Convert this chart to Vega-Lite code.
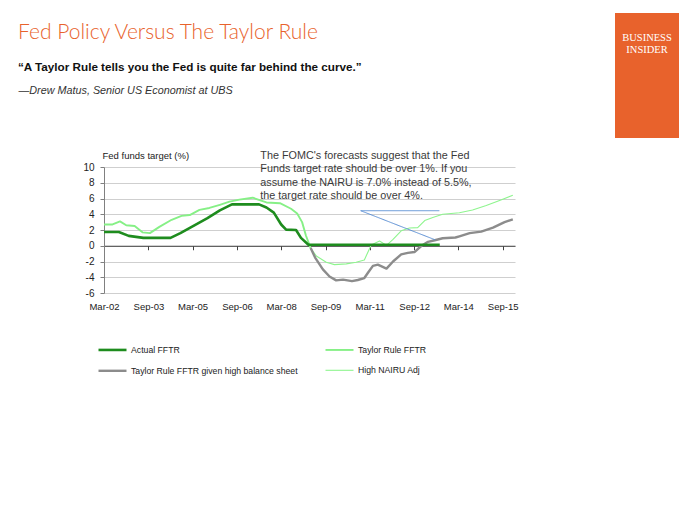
{
  "$schema": "https://vega.github.io/schema/vega-lite/v6.json",
  "autosize": {"type": "none"},
  "width": 411,
  "height": 126,
  "padding": {"left": 104, "top": 167, "right": 185, "bottom": 232},
  "background": "white",
  "config": {"view": {"stroke": null}, "font": "Liberation Sans"},
  "title": {
    "text": "Fed Policy Versus The Taylor Rule",
    "subtitle": "“A Taylor Rule tells you the Fed is quite far behind the curve.”",
    "anchor": "start",
    "frame": "group",
    "dx": -86,
    "offset": -61,
    "font": "Lato",
    "fontSize": 21,
    "fontWeight": 300,
    "color": "#e8622c",
    "subtitleFont": "Liberation Sans",
    "subtitleFontSize": 11.7,
    "subtitleFontWeight": "bold",
    "subtitleColor": "#111111",
    "subtitlePadding": 19.7
  },
  "datasets": {
    "series": [
      {"d": "2002-03-01", "s": "Taylor Rule FFTR", "v": 2.7},
      {"d": "2002-06-15", "s": "Taylor Rule FFTR", "v": 2.7},
      {"d": "2002-09-15", "s": "Taylor Rule FFTR", "v": 3.1},
      {"d": "2002-12-01", "s": "Taylor Rule FFTR", "v": 2.6},
      {"d": "2003-03-15", "s": "Taylor Rule FFTR", "v": 2.5},
      {"d": "2003-06-20", "s": "Taylor Rule FFTR", "v": 1.7},
      {"d": "2003-09-20", "s": "Taylor Rule FFTR", "v": 1.6},
      {"d": "2004-01-15", "s": "Taylor Rule FFTR", "v": 2.4},
      {"d": "2004-06-15", "s": "Taylor Rule FFTR", "v": 3.3},
      {"d": "2004-10-15", "s": "Taylor Rule FFTR", "v": 3.8},
      {"d": "2005-01-25", "s": "Taylor Rule FFTR", "v": 3.9},
      {"d": "2005-05-25", "s": "Taylor Rule FFTR", "v": 4.55},
      {"d": "2005-09-25", "s": "Taylor Rule FFTR", "v": 4.8},
      {"d": "2006-02-01", "s": "Taylor Rule FFTR", "v": 5.2},
      {"d": "2006-06-01", "s": "Taylor Rule FFTR", "v": 5.6},
      {"d": "2006-10-01", "s": "Taylor Rule FFTR", "v": 5.85},
      {"d": "2007-03-15", "s": "Taylor Rule FFTR", "v": 6.1},
      {"d": "2007-09-01", "s": "Taylor Rule FFTR", "v": 5.5},
      {"d": "2008-02-15", "s": "Taylor Rule FFTR", "v": 5.4},
      {"d": "2008-07-01", "s": "Taylor Rule FFTR", "v": 4.7},
      {"d": "2008-09-15", "s": "Taylor Rule FFTR", "v": 4.1},
      {"d": "2008-11-15", "s": "Taylor Rule FFTR", "v": 3.0},
      {"d": "2009-01-01", "s": "Taylor Rule FFTR", "v": 1.3},
      {"d": "2009-03-01", "s": "Taylor Rule FFTR", "v": -0.3},
      {"d": "2009-03-01", "s": "High NAIRU Adj", "v": -0.3},
      {"d": "2009-05-10", "s": "High NAIRU Adj", "v": -1.3},
      {"d": "2009-09-10", "s": "High NAIRU Adj", "v": -2.1},
      {"d": "2009-12-20", "s": "High NAIRU Adj", "v": -2.4},
      {"d": "2010-05-15", "s": "High NAIRU Adj", "v": -2.3},
      {"d": "2010-09-15", "s": "High NAIRU Adj", "v": -2.1},
      {"d": "2010-12-25", "s": "High NAIRU Adj", "v": -1.8},
      {"d": "2011-03-20", "s": "High NAIRU Adj", "v": 0.1},
      {"d": "2011-07-01", "s": "High NAIRU Adj", "v": 0.6},
      {"d": "2011-09-25", "s": "High NAIRU Adj", "v": 0.05},
      {"d": "2011-12-15", "s": "High NAIRU Adj", "v": 0.8},
      {"d": "2012-03-25", "s": "High NAIRU Adj", "v": 1.9},
      {"d": "2012-07-05", "s": "High NAIRU Adj", "v": 2.25},
      {"d": "2012-10-15", "s": "High NAIRU Adj", "v": 2.3},
      {"d": "2013-01-10", "s": "High NAIRU Adj", "v": 3.2},
      {"d": "2013-04-20", "s": "High NAIRU Adj", "v": 3.6},
      {"d": "2013-08-20", "s": "High NAIRU Adj", "v": 4.0},
      {"d": "2014-03-15", "s": "High NAIRU Adj", "v": 4.2},
      {"d": "2014-08-25", "s": "High NAIRU Adj", "v": 4.55},
      {"d": "2015-02-10", "s": "High NAIRU Adj", "v": 5.1},
      {"d": "2015-07-25", "s": "High NAIRU Adj", "v": 5.75},
      {"d": "2016-01-05", "s": "High NAIRU Adj", "v": 6.4},
      {"d": "2009-03-01", "s": "Taylor Rule FFTR given high balance sheet", "v": -0.3},
      {"d": "2009-04-25", "s": "Taylor Rule FFTR given high balance sheet", "v": -1.5},
      {"d": "2009-07-30", "s": "Taylor Rule FFTR given high balance sheet", "v": -3.0},
      {"d": "2009-10-20", "s": "Taylor Rule FFTR given high balance sheet", "v": -3.9},
      {"d": "2010-01-10", "s": "Taylor Rule FFTR given high balance sheet", "v": -4.4},
      {"d": "2010-04-05", "s": "Taylor Rule FFTR given high balance sheet", "v": -4.3},
      {"d": "2010-07-25", "s": "Taylor Rule FFTR given high balance sheet", "v": -4.5},
      {"d": "2010-10-05", "s": "Taylor Rule FFTR given high balance sheet", "v": -4.35},
      {"d": "2010-12-25", "s": "Taylor Rule FFTR given high balance sheet", "v": -4.1},
      {"d": "2011-02-10", "s": "Taylor Rule FFTR given high balance sheet", "v": -3.4},
      {"d": "2011-04-10", "s": "Taylor Rule FFTR given high balance sheet", "v": -2.55},
      {"d": "2011-06-10", "s": "Taylor Rule FFTR given high balance sheet", "v": -2.4},
      {"d": "2011-09-25", "s": "Taylor Rule FFTR given high balance sheet", "v": -2.9},
      {"d": "2011-12-15", "s": "Taylor Rule FFTR given high balance sheet", "v": -2.0},
      {"d": "2012-03-25", "s": "Taylor Rule FFTR given high balance sheet", "v": -1.1},
      {"d": "2012-06-15", "s": "Taylor Rule FFTR given high balance sheet", "v": -0.9},
      {"d": "2012-09-05", "s": "Taylor Rule FFTR given high balance sheet", "v": -0.8},
      {"d": "2012-12-01", "s": "Taylor Rule FFTR given high balance sheet", "v": 0.0},
      {"d": "2013-02-20", "s": "Taylor Rule FFTR given high balance sheet", "v": 0.5},
      {"d": "2013-05-15", "s": "Taylor Rule FFTR given high balance sheet", "v": 0.7},
      {"d": "2013-08-20", "s": "Taylor Rule FFTR given high balance sheet", "v": 0.95},
      {"d": "2014-01-25", "s": "Taylor Rule FFTR given high balance sheet", "v": 1.05},
      {"d": "2014-03-15", "s": "Taylor Rule FFTR given high balance sheet", "v": 1.2},
      {"d": "2014-07-20", "s": "Taylor Rule FFTR given high balance sheet", "v": 1.6},
      {"d": "2014-12-10", "s": "Taylor Rule FFTR given high balance sheet", "v": 1.8},
      {"d": "2015-05-05", "s": "Taylor Rule FFTR given high balance sheet", "v": 2.3},
      {"d": "2015-09-25", "s": "Taylor Rule FFTR given high balance sheet", "v": 3.0},
      {"d": "2016-01-05", "s": "Taylor Rule FFTR given high balance sheet", "v": 3.35},
      {"d": "2002-03-01", "s": "Actual FFTR", "v": 1.75},
      {"d": "2002-09-01", "s": "Actual FFTR", "v": 1.75},
      {"d": "2003-01-01", "s": "Actual FFTR", "v": 1.25},
      {"d": "2003-07-01", "s": "Actual FFTR", "v": 1.0},
      {"d": "2004-06-01", "s": "Actual FFTR", "v": 1.0},
      {"d": "2004-10-01", "s": "Actual FFTR", "v": 1.6},
      {"d": "2005-02-01", "s": "Actual FFTR", "v": 2.3},
      {"d": "2005-09-01", "s": "Actual FFTR", "v": 3.5},
      {"d": "2006-02-01", "s": "Actual FFTR", "v": 4.5},
      {"d": "2006-07-01", "s": "Actual FFTR", "v": 5.25},
      {"d": "2007-06-01", "s": "Actual FFTR", "v": 5.25},
      {"d": "2007-09-01", "s": "Actual FFTR", "v": 4.85},
      {"d": "2007-12-01", "s": "Actual FFTR", "v": 4.2},
      {"d": "2008-03-01", "s": "Actual FFTR", "v": 2.7},
      {"d": "2008-05-01", "s": "Actual FFTR", "v": 2.05},
      {"d": "2008-09-01", "s": "Actual FFTR", "v": 2.0},
      {"d": "2008-11-01", "s": "Actual FFTR", "v": 1.0},
      {"d": "2009-02-01", "s": "Actual FFTR", "v": 0.12},
      {"d": "2013-07-15", "s": "Actual FFTR", "v": 0.12}
    ],
    "note": [
      {"d": "2007-06-17", "v": 11.0, "t": "The FOMC's forecasts suggest that the Fed\nFunds target rate should be over 1%. If you\nassume the NAIRU is 7.0% instead of 5.5%,\nthe target rate should be over 4%."}
    ],
    "arrows": [
      {"d": "2010-11-10", "d2": "2013-07-10", "v": 4.45, "v2": 4.45},
      {"d": "2010-11-10", "d2": "2013-05-20", "v": 4.45, "v2": 0.75}
    ]
  },
  "layer": [
    {
      "data": {"name": "series"},
      "mark": {"type": "line", "strokeJoin": "round"},
      "encoding": {
        "x": {
          "field": "d",
          "type": "temporal",
          "scale": {
            "type": "utc",
            "domain": [
              {"year": 2002, "month": 3, "date": 1, "utc": true},
              {"year": 2016, "month": 2, "date": 1, "utc": true}
            ]
          },
          "axis": {
            "values": [
              {"year": 2002, "month": 3, "date": 1, "utc": true},
              {"year": 2003, "month": 9, "date": 1, "utc": true},
              {"year": 2005, "month": 3, "date": 1, "utc": true},
              {"year": 2006, "month": 9, "date": 1, "utc": true},
              {"year": 2008, "month": 3, "date": 1, "utc": true},
              {"year": 2009, "month": 9, "date": 1, "utc": true},
              {"year": 2011, "month": 3, "date": 1, "utc": true},
              {"year": 2012, "month": 9, "date": 1, "utc": true},
              {"year": 2014, "month": 3, "date": 1, "utc": true},
              {"year": 2015, "month": 9, "date": 1, "utc": true}
            ],
            "labelExpr": "utcFormat(datum.value, '%b-%y')",
            "offset": {"expr": "scale('y', 0) - height"},
            "grid": false,
            "title": null,
            "domainColor": "#404040",
            "tickColor": "#404040",
            "tickSize": 4,
            "labelPadding": 52,
            "labelFlush": false,
            "labelOverlap": false,
            "labelFont": "Liberation Sans",
            "labelFontSize": 9.5,
            "labelColor": "#222222"
          }
        },
        "y": {
          "field": "v",
          "type": "quantitative",
          "scale": {"domain": [-6, 10], "nice": false, "zero": false},
          "axis": {
            "values": [-6, -4, -2, 0, 2, 4, 6, 8, 10],
            "labelExpr": "'' + datum.value",
            "grid": true,
            "gridColor": "#cfcfcf",
            "domainColor": "#808080",
            "tickColor": "#808080",
            "tickSize": 4,
            "labelPadding": 6,
            "labelOverlap": false,
            "labelFont": "Liberation Sans",
            "labelFontSize": 10,
            "labelColor": "#222222",
            "title": "Fed funds target (%)",
            "titleAngle": 0,
            "titleX": -2,
            "titleY": -12,
            "titleAlign": "left",
            "titleBaseline": "middle",
            "titleFont": "Liberation Sans",
            "titleFontSize": 9.5,
            "titleFontWeight": "normal",
            "titleColor": "#222222"
          }
        },
        "color": {
          "field": "s",
          "type": "nominal",
          "scale": {
            "domain": ["Actual FFTR", "Taylor Rule FFTR given high balance sheet", "Taylor Rule FFTR", "High NAIRU Adj"],
            "range": ["#1e8c1e", "#8c8c8c", "#86f086", "#8ef58e"]
          },
          "legend": {
            "orient": "none",
            "legendX": -7,
            "legendY": 167.3,
            "title": null,
            "columns": 2,
            "columnPadding": 23,
            "rowPadding": -2,
            "padding": 0,
            "symbolType": "stroke",
            "symbolSize": 784,
            "labelOffset": 3,
            "labelFont": "Liberation Sans",
            "labelFontSize": 8.7,
            "labelColor": "#222222",
            "labelLimit": 300,
            "encode": {"symbols": {"update": {"strokeWidth": {"scale": "strokeWidth", "field": "value"}}}}
          }
        },
        "strokeWidth": {
          "field": "s",
          "type": "nominal",
          "scale": {
            "type": "ordinal",
            "domain": ["Actual FFTR", "Taylor Rule FFTR given high balance sheet", "Taylor Rule FFTR", "High NAIRU Adj"],
            "range": [2.6, 2.4, 1.9, 1.1]
          },
          "legend": null
        }
      }
    },
    {
      "data": {"name": "note"},
      "mark": {"type": "text", "align": "left", "baseline": "alphabetic", "lineBreak": "\n", "lineHeight": 13.2, "font": "Liberation Sans", "fontSize": 10.8, "color": "#3a3a3a"},
      "encoding": {
        "x": {
          "field": "d",
          "type": "temporal",
          "axis": {
            "orient": "top",
            "labels": false,
            "ticks": false,
            "domain": false,
            "grid": false,
            "title": "—Drew Matus, Senior US Economist at UBS",
            "titleX": -86,
            "titleY": -73.7,
            "titleAlign": "left",
            "titleAnchor": "start",
            "titleBaseline": "alphabetic",
            "titleFont": "Liberation Sans",
            "titleFontSize": 10.8,
            "titleFontStyle": "italic",
            "titleFontWeight": "normal",
            "titleColor": "#333333"
          }
        },
        "y": {"field": "v", "type": "quantitative", "axis": null},
        "text": {"field": "t", "type": "nominal"}
      }
    },
    {
      "data": {"name": "arrows"},
      "mark": {"type": "rule", "color": "#5b8fd4", "strokeWidth": 1},
      "encoding": {
        "x": {"field": "d", "type": "temporal", "axis": null},
        "x2": {"field": "d2"},
        "y": {"field": "v", "type": "quantitative", "axis": null},
        "y2": {"field": "v2"},
        "strokeDash": {
          "datum": "logo",
          "type": "nominal",
          "scale": {"range": [[1, 0]]},
          "legend": {
            "orient": "none",
            "legendX": 511,
            "legendY": -154,
            "fillColor": "#e8622c",
            "strokeColor": null,
            "padding": 7,
            "title": ["", "BUSINESS", "INSIDER"],
            "titleFont": "Liberation Serif",
            "titleFontSize": 10.5,
            "titleFontWeight": "normal",
            "titleColor": "#ffffff",
            "titleLineHeight": 12.6,
            "titleAnchor": "middle",
            "titleAlign": "center",
            "titlePadding": 73,
            "symbolOpacity": 0,
            "symbolSize": 1,
            "labelExpr": "''",
            "labelFontSize": 1
          }
        }
      }
    }
  ],
  "resolve": {"axis": {"x": "independent", "y": "independent"}}
}
